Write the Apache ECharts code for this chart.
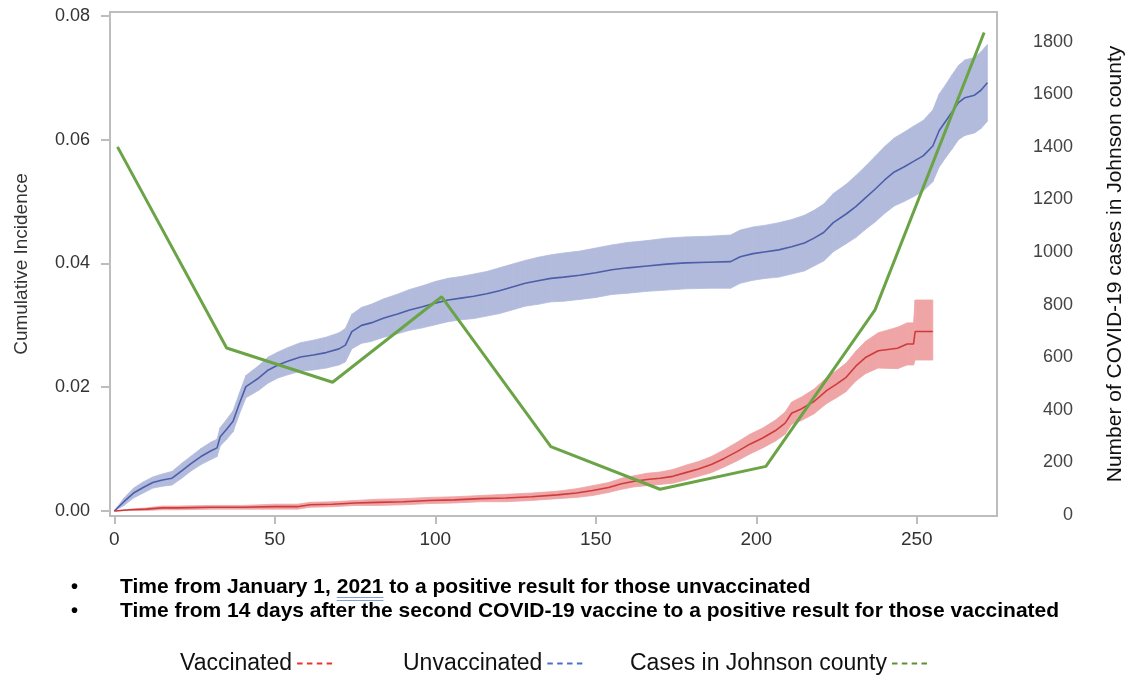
<!DOCTYPE html>
<html>
<head>
<meta charset="utf-8">
<script src="https://cdn.jsdelivr.net/npm/echarts@6/dist/echarts.min.js"></script>
<style>
html,body{margin:0;padding:0;background:#ffffff;}
#chart{width:1129px;height:676px;}
</style>
</head>
<body>
<div id="chart"></div>
<script>
// ---------- data ----------
const unvacDays = [
  0,3,6,9,12,15,18,21,24,27,
  30,32,33,35,37,39,41,43,45,48,
  51,54,58,62,66,70,72,74,77,80,
  84,88,92,96,100,104,108,112,116,120,
  124,128,132,136,140,145,150,155,160,166,
  172,178,185,192,195,199,203,207,211,215,
  218,221,224,228,231,234,237,240,243,246,
  249,252,255,257,259,261,263,265,268,270,
  272
];
const unvacCI = [
  0,0.0015,0.0029,0.0038,0.0046,0.0050,0.0053,0.0065,0.0077,0.0088,
  0.0097,0.0102,0.0120,0.0132,0.0145,0.0174,0.0201,0.0208,0.0215,0.0228,
  0.0236,0.0242,0.0249,0.0252,0.0256,0.0262,0.0268,0.0290,0.0300,0.0304,
  0.0312,0.0318,0.0325,0.0330,0.0336,0.0341,0.0344,0.0347,0.0351,0.0356,
  0.0362,0.0368,0.0372,0.0376,0.0378,0.0381,0.0385,0.0390,0.0393,0.0396,
  0.0399,0.0401,0.0402,0.0403,0.0411,0.0416,0.0419,0.0422,0.0427,0.0433,
  0.0441,0.0450,0.0466,0.0480,0.0492,0.0506,0.0520,0.0535,0.0548,0.0556,
  0.0565,0.0574,0.0590,0.0615,0.0630,0.0645,0.0660,0.0668,0.0672,0.0680,
  0.0692
];
const unvacLower = [
  0,0.0009,0.0021,0.0029,0.0037,0.0040,0.0042,0.0053,0.0065,0.0075,
  0.0083,0.0088,0.0105,0.0116,0.0128,0.0157,0.0183,0.0189,0.0195,0.0207,
  0.0215,0.0220,0.0226,0.0228,0.0231,0.0236,0.0241,0.0262,0.0271,0.0274,
  0.0281,0.0286,0.0292,0.0296,0.0301,0.0306,0.0309,0.0311,0.0315,0.0319,
  0.0325,0.0331,0.0334,0.0338,0.0339,0.0342,0.0345,0.0350,0.0352,0.0355,
  0.0357,0.0359,0.0360,0.0360,0.0368,0.0373,0.0376,0.0378,0.0383,0.0388,
  0.0396,0.0404,0.0419,0.0432,0.0442,0.0455,0.0467,0.0481,0.0493,0.0500,
  0.0508,0.0517,0.0532,0.0556,0.0571,0.0585,0.0600,0.0607,0.0611,0.0618,
  0.0630
];
const unvacUpper = [
  0,0.0021,0.0037,0.0047,0.0055,0.0060,0.0064,0.0077,0.0089,0.0101,
  0.0111,0.0116,0.0135,0.0148,0.0162,0.0191,0.0219,0.0227,0.0235,0.0249,
  0.0257,0.0264,0.0272,0.0276,0.0281,0.0288,0.0295,0.0318,0.0329,0.0334,
  0.0343,0.0350,0.0358,0.0364,0.0371,0.0376,0.0379,0.0383,0.0387,0.0393,
  0.0399,0.0405,0.0410,0.0414,0.0417,0.0420,0.0425,0.0430,0.0434,0.0437,
  0.0441,0.0443,0.0444,0.0446,0.0454,0.0459,0.0462,0.0466,0.0471,0.0478,
  0.0486,0.0496,0.0513,0.0528,0.0542,0.0557,0.0573,0.0589,0.0603,0.0612,
  0.0622,0.0631,0.0648,0.0674,0.0689,0.0705,0.0720,0.0729,0.0733,0.0742,
  0.0754
];

const vacDays = [
  0,5,10,15,20,30,40,50,57,61,
  68,75,82,90,98,106,114,122,130,138,
  144,149,154,158,162,166,170,174,178,182,
  186,190,194,198,202,206,209,211,214,218,
  222,225,228,231,234,238,244,247,249,249.5,
  255
];
const vacCI = [
  0,0.0002,0.0003,0.0005,0.0005,0.0006,0.0006,0.0007,0.0007,0.0010,
  0.0011,0.0013,0.0014,0.0015,0.0017,0.0018,0.0020,0.0021,0.0023,0.0026,
  0.0029,0.0033,0.0038,0.0044,0.0048,0.0051,0.0053,0.0056,0.0062,0.0068,
  0.0075,0.0085,0.0096,0.0108,0.0118,0.0130,0.0142,0.0158,0.0165,0.0177,
  0.0195,0.0205,0.0216,0.0234,0.0248,0.0259,0.0263,0.0270,0.0270,0.0290,
  0.0290
];
const vacLower = [
  0,0.0001,0.0001,0.0002,0.0002,0.0003,0.0003,0.0003,0.0003,0.0006,
  0.0007,0.0009,0.0009,0.0010,0.0012,0.0013,0.0015,0.0015,0.0017,0.0020,
  0.0022,0.0025,0.0030,0.0035,0.0039,0.0041,0.0043,0.0045,0.0050,0.0056,
  0.0062,0.0071,0.0081,0.0092,0.0102,0.0113,0.0124,0.0140,0.0146,0.0157,
  0.0174,0.0183,0.0193,0.0210,0.0222,0.0231,0.0230,0.0236,0.0236,0.0244,
  0.0244
];
const vacUpper = [
  0,0.0003,0.0005,0.0008,0.0008,0.0009,0.0009,0.0011,0.0011,0.0014,
  0.0015,0.0017,0.0019,0.0020,0.0022,0.0023,0.0025,0.0027,0.0029,0.0032,
  0.0036,0.0041,0.0046,0.0053,0.0057,0.0061,0.0063,0.0067,0.0074,0.0080,
  0.0088,0.0099,0.0111,0.0124,0.0134,0.0147,0.0160,0.0176,0.0184,0.0197,
  0.0216,0.0227,0.0239,0.0258,0.0274,0.0288,0.0297,0.0304,0.0304,0.0341,
  0.0341
];

const caseDays = [1,35,68,102,136,170,203,237,271];
const caseCounts = [1400,635,505,830,260,98,185,780,1835];

const xTicks = [0,50,100,150,200,250];
const leftTicks = [0,0.02,0.04,0.06,0.08];
const rightTicks = [0,200,400,600,800,1000,1200,1400,1600,1800];

const noteLines = [
  'Time from January 1, 2021 to a positive result for those unvaccinated',
  'Time from 14 days after the second COVID-19 vaccine to a positive result for those vaccinated'
];

// ---------- helpers ----------
const pairs = (xs, ys) => xs.map((x, i) => [x, ys[i]]);
// one band piece per interval [day_i, day_{i+1}]: x0, x1, lo0, hi0, lo1, hi1
const bandSegments = (xs, lo, hi) =>
  xs.slice(0, -1).map((x, i) => [x, xs[i + 1], lo[i], hi[i], lo[i + 1], hi[i + 1]]);

const FONT = '"Liberation Sans", Arial, sans-serif';
const AXIS_GRAY = '#bdbdbd';
const dashIcon = 'path://M0,0h5v2h-5z M9,0h5v2h-5z M18,0h5v2h-5z M27,0h5v2h-5z';

// measure for underline under "2021"
const cvs = document.createElement('canvas').getContext('2d');
cvs.font = 'bold 21px "Liberation Sans", Arial, sans-serif';
const preW = cvs.measureText('Time from January 1, ').width;
const yrW = cvs.measureText('2021').width;

const chart = echarts.init(document.getElementById('chart'), null, {renderer: 'canvas'});

function bandRenderer(color) {
  return function (params, api) {
    const p = [
      api.coord([api.value(0), api.value(3)]),
      api.coord([api.value(1), api.value(5)]),
      api.coord([api.value(1), api.value(4)]),
      api.coord([api.value(0), api.value(2)])
    ];
    return {
      type: 'polygon',
      shape: {points: p},
      style: {fill: color, stroke: color, lineWidth: 0.8}
    };
  };
}

const legendCommon = {
  orient: 'horizontal', top: 647, align: 'right', icon: dashIcon,
  itemWidth: 35, itemHeight: 3, selectedMode: false,
  textStyle: {fontSize: 23, color: '#111', fontFamily: FONT}
};

chart.setOption({
  animation: false,
  backgroundColor: '#ffffff',
  textStyle: {fontFamily: FONT},
  grid: {
    left: 110, right: 132, top: 12, bottom: 160,
    show: true, borderColor: AXIS_GRAY, borderWidth: 2,
    containLabel: false, outerBoundsMode: 'none'
  },
  legend: [
    Object.assign({left: 175, data: [{name: 'Vaccinated', itemStyle: {color: '#e8352c'}}]}, legendCommon),
    Object.assign({left: 398, data: [{name: 'Unvaccinated', itemStyle: {color: '#4472c4'}}]}, legendCommon),
    Object.assign({left: 625, data: [{name: 'Cases in Johnson county', itemStyle: {color: '#5e8f33'}}]}, legendCommon)
  ],
  xAxis: {
    type: 'value', min: -1.34, max: 275,
    axisLine: {onZero: false, lineStyle: {color: AXIS_GRAY, width: 2}},
    axisTick: {customValues: xTicks, length: 8, lineStyle: {color: AXIS_GRAY, width: 2}},
    axisLabel: {customValues: xTicks, margin: 14, fontSize: 19, color: '#333'},
    splitLine: {show: false}
  },
  yAxis: [
    {
      type: 'value', position: 'left', min: -0.000808, max: 0.080646,
      axisLine: {show: true, onZero: false, lineStyle: {color: AXIS_GRAY, width: 2}},
      axisTick: {show: true, customValues: leftTicks, length: 9, lineStyle: {color: AXIS_GRAY, width: 2}},
      axisLabel: {customValues: leftTicks, margin: 20, fontSize: 18, color: '#333',
                  formatter: v => v.toFixed(2)},
      splitLine: {show: false},
      name: 'Cumulative Incidence', nameLocation: 'middle', nameRotate: 90, nameGap: 79,
      nameTextStyle: {fontSize: 19, color: '#333'}
    },
    {
      type: 'value', position: 'right', min: -3.8, max: 1913,
      axisLine: {show: false, onZero: false}, axisTick: {show: false},
      axisLabel: {customValues: rightTicks, margin: 76, align: 'right', fontSize: 18, color: '#444',
                  formatter: v => String(v)},
      splitLine: {show: false},
      name: 'Number of COVID-19 cases in Johnson county', nameLocation: 'middle', nameRotate: 90, nameGap: 108,
      nameTextStyle: {fontSize: 21, color: '#111'}
    }
  ],
  series: [
    {
      name: 'Unvaccinated CI', type: 'custom', silent: true, z: 1, clip: true,
      renderItem: bandRenderer('#b3bbdd'),
      encode: {x: [0, 1], y: [2, 3, 4, 5]},
      data: bandSegments(unvacDays, unvacLower, unvacUpper)
    },
    {
      name: 'Vaccinated CI', type: 'custom', silent: true, z: 1, clip: true,
      renderItem: bandRenderer('#efa5a6'),
      encode: {x: [0, 1], y: [2, 3, 4, 5]},
      data: bandSegments(vacDays, vacLower, vacUpper)
    },
    {
      name: 'Unvaccinated', type: 'line', symbol: 'none', z: 3,
      data: pairs(unvacDays, unvacCI),
      lineStyle: {color: '#4d5ea9', width: 1.6}, itemStyle: {color: '#4d5ea9'}
    },
    {
      name: 'Vaccinated', type: 'line', symbol: 'none', z: 3,
      data: pairs(vacDays, vacCI),
      lineStyle: {color: '#cf3b3d', width: 1.6}, itemStyle: {color: '#cf3b3d'}
    },
    {
      name: 'Cases in Johnson county', type: 'line', yAxisIndex: 1, symbol: 'none', z: 4,
      data: pairs(caseDays, caseCounts),
      lineStyle: {color: '#6ba446', width: 3}, itemStyle: {color: '#6ba446'}
    }
  ],
  graphic: [
    {type: 'text', x: 71, y: 587, style: {text: '•', font: 'bold 20px ' + FONT, fill: '#000', verticalAlign: 'middle'}},
    {type: 'text', x: 71, y: 611, style: {text: '•', font: 'bold 20px ' + FONT, fill: '#000', verticalAlign: 'middle'}},
    {type: 'text', x: 120, y: 587, style: {text: noteLines[0], font: 'bold 21px ' + FONT, fill: '#000', verticalAlign: 'middle'}},
    {type: 'text', x: 120, y: 611, style: {text: noteLines[1], font: 'bold 21px ' + FONT, fill: '#000', verticalAlign: 'middle'}},
    {type: 'line', shape: {x1: 120 + preW, y1: 597.5, x2: 120 + preW + yrW, y2: 597.5}, style: {stroke: '#7f9ed8', lineWidth: 1}},
    {type: 'line', shape: {x1: 120 + preW, y1: 600.5, x2: 120 + preW + yrW, y2: 600.5}, style: {stroke: '#7f9ed8', lineWidth: 1}}
  ]
});
</script>
</body>
</html>
